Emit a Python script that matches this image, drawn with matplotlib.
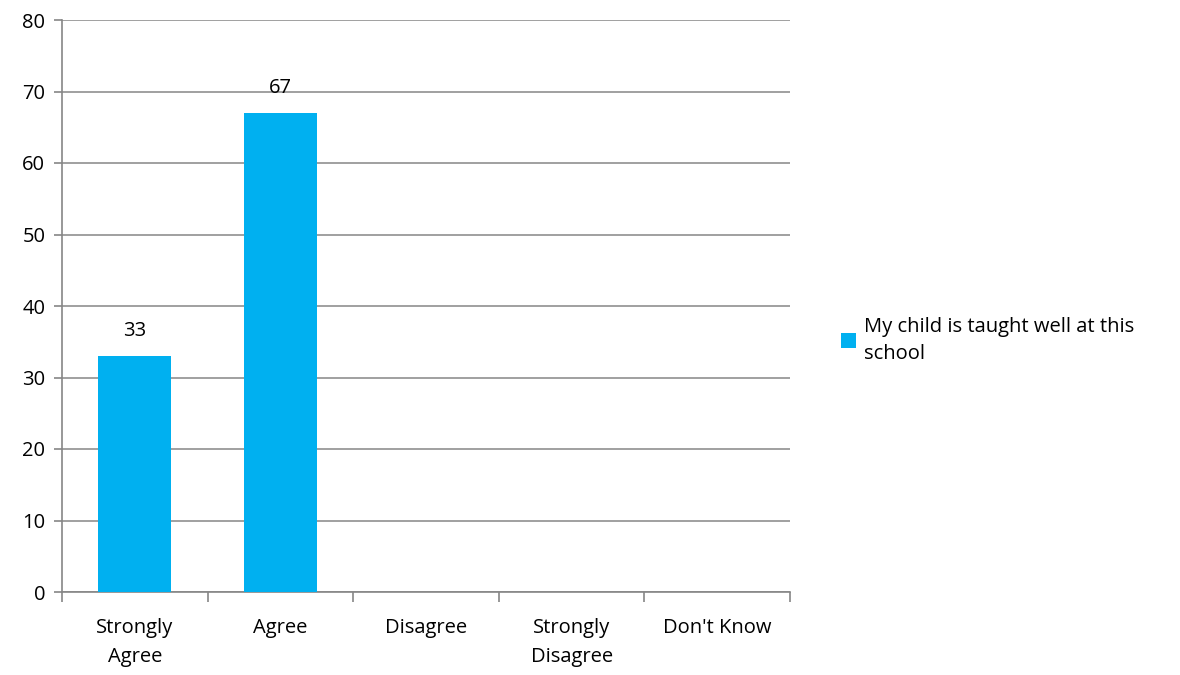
import matplotlib
matplotlib.use("Agg")
from matplotlib import pyplot as plt
import numpy as np

categories = ["Strongly\nAgree", "Agree", "Disagree", "Strongly\nDisagree", "Don't Know"]
values = [33, 67, 0, 0, 0]
series_name = "My child is taught well at this\nschool"
bar_color = "#00B0F0"
grid_color = "#868686"

plt.rcParams['font.family'] = ['Open Sans', 'DejaVu Sans']
plt.rcParams['text.color'] = '#000000'
plt.rcParams['xtick.labelcolor'] = '#000000'
plt.rcParams['ytick.labelcolor'] = '#000000'

fig = plt.figure(figsize=(11.8, 6.75), dpi=100)
ax = fig.add_axes([62/1180, 1-592/675, (790-62)/1180, (592-20)/675])

x = np.arange(len(categories))
rects = ax.bar(x, values, width=0.5, color=bar_color, label=series_name, zorder=3)

# data labels only where there is a bar
for rect, v in zip(rects, values):
    if v > 0:
        ax.annotate('{}'.format(v),
                    xy=(rect.get_x() + rect.get_width() / 2, v),
                    xytext=(0, 11), textcoords="offset points",
                    ha='center', va='bottom', fontsize=14.5)

ax.set_xlim(-0.5, len(categories) - 0.5)
ax.set_ylim(0, 80)
ax.set_yticks(range(0, 81, 10))
ax.yaxis.grid(True, color=grid_color, linewidth=1.1, zorder=0)
ax.set_axisbelow(True)

# category labels between boundary ticks
ax.set_xticks(np.arange(-0.5, len(categories), 1.0))
ax.set_xticklabels([])
ax.set_xticks(x, minor=True)
ax.set_xticklabels(categories, minor=True, fontsize=14.5, linespacing=1.55)
ax.tick_params(axis='x', which='minor', length=0, pad=19)
ax.tick_params(axis='x', which='major', length=7, width=1.2, color=grid_color, direction='out')
ax.tick_params(axis='y', length=6, width=1.2, color=grid_color, labelsize=14.5, pad=6)

for side in ['top', 'right']:
    ax.spines[side].set_visible(False)
for side in ['left', 'bottom']:
    ax.spines[side].set_color(grid_color)
    ax.spines[side].set_linewidth(1.2)

leg = ax.legend(loc='center left', bbox_to_anchor=(1.045, 0.44), frameon=False,
                fontsize=14.5, handlelength=0.75, handleheight=0.75, handletextpad=0.4)
for t in leg.get_texts():
    t.set_linespacing(1.45)

plt.savefig("out.png", dpi=100)
